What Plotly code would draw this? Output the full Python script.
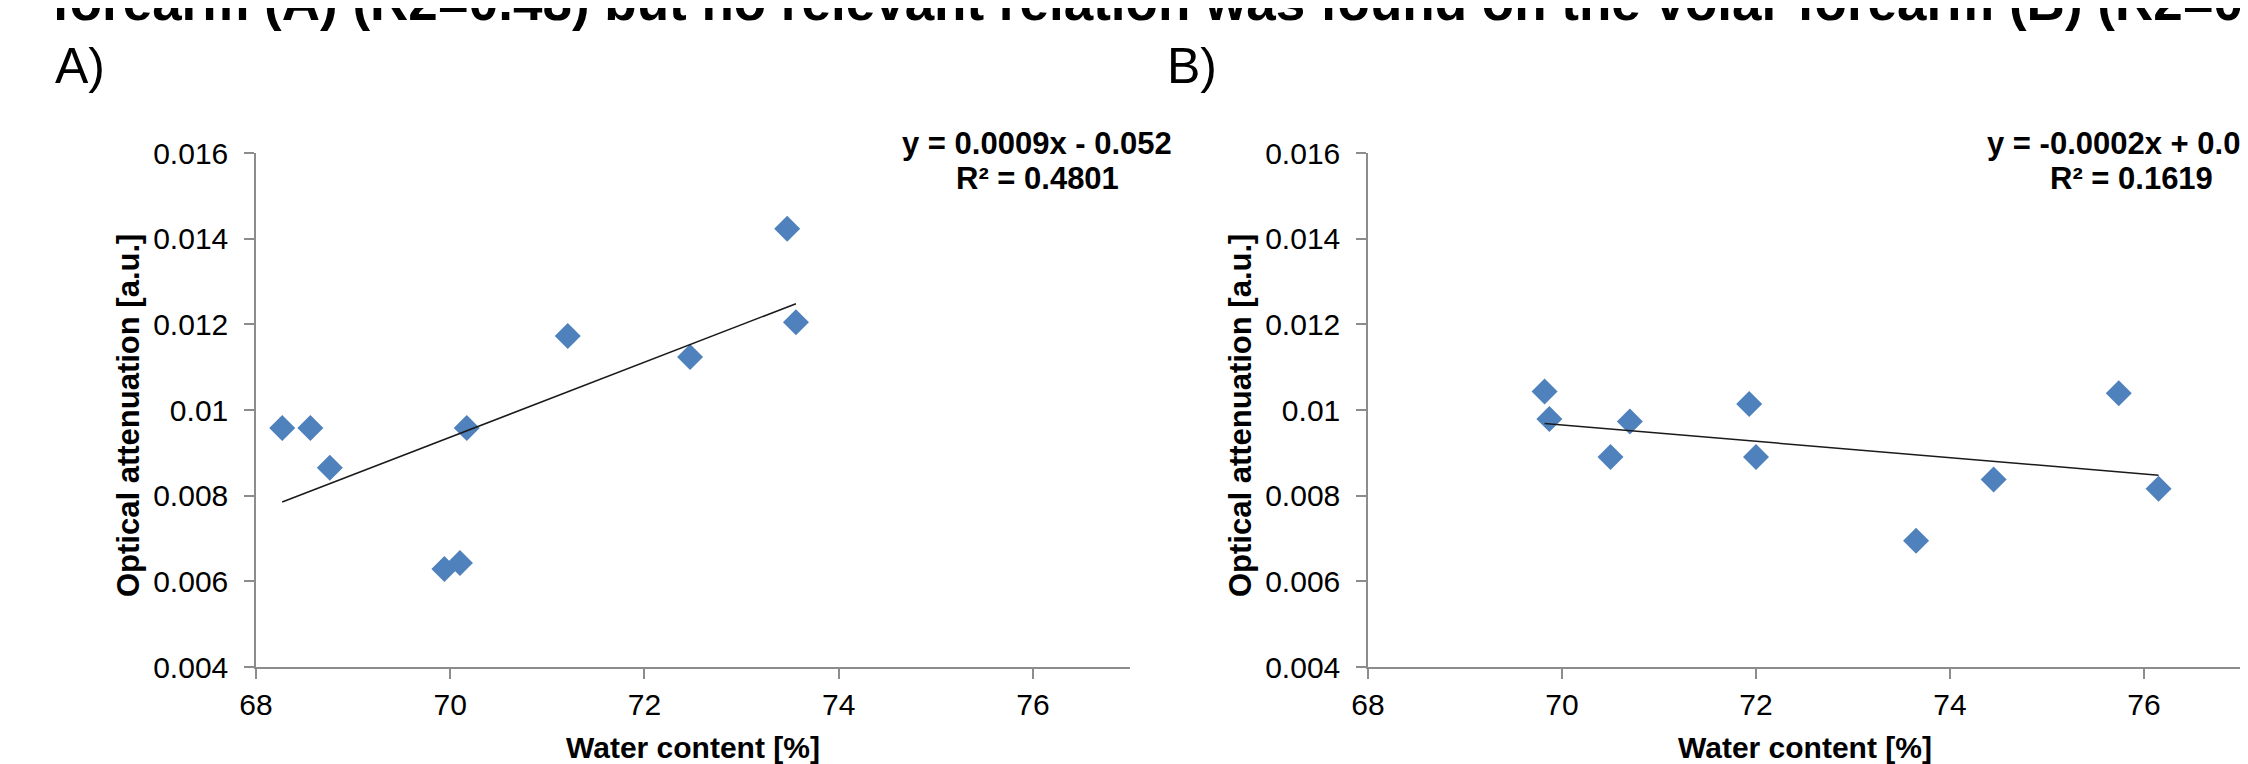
import numpy as np
import plotly.graph_objects as go

# ---- data ----
A_x = [68.27, 68.56, 68.76, 70.17, 71.21, 72.47, 73.47, 73.56, 69.94, 70.10]
A_y = [0.00958, 0.00958, 0.00865, 0.00958, 0.01173, 0.01124, 0.01423, 0.01205, 0.00629, 0.00643]

B_x = [69.82, 69.87, 70.50, 70.70, 71.93, 72.00, 74.45, 75.74, 76.15, 73.65]
B_y = [0.01043, 0.00979, 0.00890, 0.00973, 0.01014, 0.00890, 0.00838, 0.01039, 0.00816, 0.00695]

X_TICKS = [68, 70, 72, 74, 76]
Y_TICKS = [0.004, 0.006, 0.008, 0.010, 0.012, 0.014, 0.016]
Y_LABELS = ["0.004", "0.006", "0.008", "0.01", "0.012", "0.014", "0.016"]

EQ_A = ["y = 0.0009x - 0.052", "R² = 0.4801"]
EQ_B = ["y = -0.0002x + 0.023", "R² = 0.1619"]
HEADLINE = "forearm (A) (R2=0.48) but no relevant relation was found on the volar forearm (B) (R2=0.16)"
PANEL_LABELS = ["A)", "B)"]
X_TITLE = "Water content [%]"
Y_TITLE = "Optical attenuation [a.u.]"

W, H = 2248, 764
OFF = 8  # the page body offsets the figure by 8 px; compensate so positions match the target picture
def px(x):
    return (x - OFF) / W
def py(y):
    return 1 - (y - OFF) / H

FONT = "Arial, 'Liberation Sans', sans-serif"
BLUE = "#4F81BD"
AX_COL = "#8c8c8c"

fig = go.Figure()

panels = [
    dict(xs=A_x, ys=A_y, xa="x", ya="y", left=256, right=1130, eq=EQ_A, eqx=1037,
         label_x=53, ytitle_x=128),
    dict(xs=B_x, ys=B_y, xa="x2", ya="y2", left=1368, right=2241, eq=EQ_B, eqx=2131,
         label_x=1165, ytitle_x=1240),
]

for p in panels:
    xs = np.array(p["xs"])
    ys = np.array(p["ys"])
    fig.add_trace(go.Scatter(x=xs, y=ys, mode="markers",
                             marker=dict(symbol="diamond", size=20, color=BLUE, line=dict(width=0)),
                             xaxis=p["xa"], yaxis=p["ya"], showlegend=False))
    k = np.polyfit(xs, ys, 1)
    lx = np.array([xs.min(), xs.max()])
    fig.add_trace(go.Scatter(x=lx, y=np.polyval(k, lx), mode="lines",
                             line=dict(color="#1a1a1a", width=1.5),
                             xaxis=p["xa"], yaxis=p["ya"], showlegend=False, hoverinfo="skip"))

common = dict(showgrid=False, zeroline=False, showline=True, linecolor=AX_COL, linewidth=1.5,
              ticks="outside", ticklen=10, tickwidth=1.5, tickcolor=AX_COL, automargin=False,
              tickfont=dict(family=FONT, size=30, color="#000000"))

ydom = [py(667), py(153)]
layout_axes = {}
for i, p in enumerate(panels):
    sx = "xaxis" if i == 0 else "xaxis2"
    sy = "yaxis" if i == 0 else "yaxis2"
    layout_axes[sx] = dict(common, range=[68, 77], tickvals=X_TICKS, domain=[px(p["left"]), px(p["right"])],
                           anchor=p["ya"])
    layout_axes[sy] = dict(common, range=[0.004, 0.016], tickvals=Y_TICKS, ticktext=Y_LABELS,
                           domain=ydom, anchor=p["xa"], ticklabelstandoff=10)

annotations = []
# headline (cut off at the top as in the reference)
annotations.append(dict(text="<b>" + HEADLINE + "</b>", x=px(50), y=py(20 - 0.35 * 53), xref="paper", yref="paper",
                        xanchor="left", yanchor="middle", showarrow=False,
                        font=dict(family=FONT, size=53, color="#000000")))
for p, lab in zip(panels, PANEL_LABELS):
    annotations.append(dict(text=lab, x=px(p["label_x"]), y=py(83 - 0.35 * 50), xref="paper", yref="paper",
                            xanchor="left", yanchor="middle", showarrow=False,
                            font=dict(family=FONT, size=50, color="#000000")))
    for line, base in zip(p["eq"], [154, 189]):
        annotations.append(dict(text="<b>" + line + "</b>", x=px(p["eqx"]), y=py(base - 0.35 * 31),
                                xref="paper", yref="paper", xanchor="center", yanchor="middle",
                                showarrow=False, font=dict(family=FONT, size=31, color="#000000")))
    annotations.append(dict(text="<b>" + X_TITLE + "</b>", x=px((p["left"] + p["right"]) / 2),
                            y=py(758 - 0.35 * 30), xref="paper", yref="paper",
                            xanchor="center", yanchor="middle", showarrow=False,
                            font=dict(family=FONT, size=30, color="#000000")))
    annotations.append(dict(text="<b>" + Y_TITLE + "</b>", x=px(p["ytitle_x"]), y=py(416),
                            xref="paper", yref="paper", xanchor="center", yanchor="middle",
                            textangle=-90, showarrow=False,
                            font=dict(family=FONT, size=31, color="#000000")))

fig.update_layout(width=W, height=H, margin=dict(l=0, r=0, t=0, b=0, pad=0, autoexpand=False),
                  paper_bgcolor="white", plot_bgcolor="white",
                  annotations=annotations, **layout_axes)

fig.write_html("out.html")
